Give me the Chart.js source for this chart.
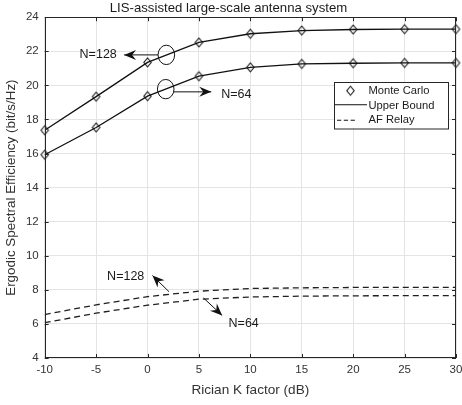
<!DOCTYPE html>
<html>
<head>
<meta charset="utf-8">
<script src="https://cdn.jsdelivr.net/npm/chart.js@4/dist/chart.umd.min.js"></script>
<style>
  html, body { margin: 0; padding: 0; background: #fff; }
  #wrap { width: 462px; height: 405px; }
</style>
</head>
<body>
<div id="wrap"><canvas id="seChart" width="462" height="405"></canvas></div>
<script>
// K factor (dB) on the x axis
const kFactor = [-10, -5, 0, 5, 10, 15, 20, 25, 30]

// LIS upper bound and Monte Carlo points
const upperBound128 = [17.37, 19.34, 21.35, 22.52, 23.03, 23.22, 23.28, 23.3, 23.3]
const upperBound64 = [15.93, 17.53, 19.37, 20.54, 21.06, 21.26, 21.3, 21.32, 21.32]
const monteCarlo128 = [17.37, 19.34, 21.35, 22.52, 23.03, 23.22, 23.28, 23.3, 23.3]
const monteCarlo64 = [15.93, 17.53, 19.37, 20.54, 21.06, 21.26, 21.3, 21.32, 21.32]

// AF relay curves
const afRelay128 = [6.55, 7.12, 7.6, 7.92, 8.08, 8.12, 8.14, 8.15, 8.15]
const afRelay64 = [6.07, 6.63, 7.1, 7.45, 7.58, 7.63, 7.65, 7.66, 7.66]

const xTicks = [-10, -5, 0, 5, 10, 15, 20, 25, 30]
const yTicks = [4, 6, 8, 10, 12, 14, 16, 18, 20, 22, 24]

const legendLabels = ['Monte Carlo', 'Upper Bound', 'AF Relay']

const FONT = 'Liberation Sans, Arial, Helvetica, sans-serif'
const TEXT = '#333333'
const LINE = '#111111'

const pts = (ys) => kFactor.map((k, i) => ({ x: k, y: ys[i] }))

// narrow matlab style diamond marker
const makeDiamond = () => {
  const c = document.createElement('canvas')
  c.width = 11
  c.height = 13
  const g = c.getContext('2d')
  g.strokeStyle = LINE
  g.lineWidth = 1.1
  g.beginPath()
  g.moveTo(5.5, 2)
  g.lineTo(9.2, 6.5)
  g.lineTo(5.5, 11)
  g.lineTo(1.8, 6.5)
  g.closePath()
  g.stroke()
  return c
}
const diamond = makeDiamond()

// annotation marks in data units (ellipses, arrows, labels)
const ellipses = [
  { x: 1.83, y: 21.79 },
  { x: 1.77, y: 19.78 },
]
const arrows = [
  { from: [1.02, 21.79], to: [-2.28, 21.79] },
  { from: [2.57, 19.62], to: [6.2, 19.62] },
  { from: [2.09, 7.89], to: [0.48, 8.84] },
  { from: [5.45, 7.52], to: [7.26, 6.5] },
]
const notes = [
  { text: 'N=128', x: -2.99, y: 21.79, align: 'right' },
  { text: 'N=64', x: 7.17, y: 19.46, align: 'left' },
  { text: 'N=128', x: -3.93, y: 8.79, align: 'left' },
  { text: 'N=64', x: 7.88, y: 6.05, align: 'left' },
]

const drawArrowHead = (ctx, x1, y1, x2, y2) => {
  const a = Math.atan2(y2 - y1, x2 - x1)
  const L = 12, W = 5, N = 8
  const ux = Math.cos(a), uy = Math.sin(a)
  ctx.beginPath()
  ctx.moveTo(x2, y2)
  ctx.lineTo(x2 - L * ux - W * uy, y2 - L * uy + W * ux)
  ctx.lineTo(x2 - N * ux, y2 - N * uy)
  ctx.lineTo(x2 - L * ux + W * uy, y2 - L * uy - W * ux)
  ctx.closePath()
  ctx.fill()
}

const decorations = {
  id: 'decorations',
  afterDraw(chart) {
    const { ctx, chartArea: ca, scales: { x, y } } = chart
    ctx.save()

    // box + inward ticks
    ctx.strokeStyle = '#262626'
    ctx.lineWidth = 1
    ctx.strokeRect(Math.round(ca.left) + 0.5, Math.round(ca.top) + 0.5,
      Math.round(ca.right - ca.left) - 1, Math.round(ca.bottom - ca.top) - 1)
    ctx.beginPath()
    xTicks.forEach(v => {
      const px = Math.round(x.getPixelForValue(v)) + 0.5
      ctx.moveTo(px, ca.bottom); ctx.lineTo(px, ca.bottom - 4)
      ctx.moveTo(px, ca.top); ctx.lineTo(px, ca.top + 4)
    })
    yTicks.forEach(v => {
      const py = Math.round(y.getPixelForValue(v)) + 0.5
      ctx.moveTo(ca.left, py); ctx.lineTo(ca.left + 4, py)
      ctx.moveTo(ca.right, py); ctx.lineTo(ca.right - 4, py)
    })
    ctx.stroke()

    // ellipses
    ctx.strokeStyle = LINE
    ellipses.forEach(e => {
      ctx.beginPath()
      ctx.ellipse(x.getPixelForValue(e.x), y.getPixelForValue(e.y), 8.3, 9.7, 0, 0, Math.PI * 2)
      ctx.stroke()
    })

    // arrows
    ctx.fillStyle = LINE
    arrows.forEach(a => {
      const x1 = x.getPixelForValue(a.from[0]), y1 = y.getPixelForValue(a.from[1])
      const x2 = x.getPixelForValue(a.to[0]), y2 = y.getPixelForValue(a.to[1])
      ctx.beginPath()
      ctx.moveTo(x1, y1)
      ctx.lineTo(x2, y2)
      ctx.stroke()
      drawArrowHead(ctx, x1, y1, x2, y2)
    })

    // labels
    ctx.font = '12.5px ' + FONT
    ctx.fillStyle = '#1a1a1a'
    ctx.textBaseline = 'middle'
    notes.forEach(n => {
      ctx.textAlign = n.align
      ctx.fillText(n.text, x.getPixelForValue(n.x), y.getPixelForValue(n.y))
    })

    // legend box
    const lx = ca.right - 122, ly = ca.top + 64.5, lw = 114, lh = 46.5
    ctx.fillStyle = '#fff'
    ctx.fillRect(lx, ly, lw, lh)
    ctx.strokeStyle = '#262626'
    ctx.strokeRect(Math.round(lx) + 0.5, Math.round(ly) + 0.5, lw, lh)
    ctx.drawImage(diamond, lx + 11, ly + 2.5)
    ctx.strokeStyle = LINE
    ctx.beginPath()
    ctx.moveTo(lx + 1, ly + 23); ctx.lineTo(lx + 33, ly + 23)
    ctx.stroke()
    ctx.setLineDash([4.3, 2.5])
    ctx.beginPath()
    ctx.moveTo(lx + 3, ly + 38.5); ctx.lineTo(lx + 22, ly + 38.5)
    ctx.stroke()
    ctx.setLineDash([])
    ctx.font = '11.2px ' + FONT
    ctx.fillStyle = '#1a1a1a'
    ctx.textAlign = 'left'
    legendLabels.forEach((t, i) => ctx.fillText(t, lx + 34.5, ly + 9 + i * 14.8))

    ctx.restore()
  }
}

const solid = (data) => ({
  data: pts(data), borderColor: LINE, borderWidth: 1.3,
  pointRadius: 0, showLine: true, fill: false,
})
const dashed = (data) => ({
  data: pts(data), borderColor: '#1f1f1f', borderWidth: 1.3, borderDash: [6, 4],
  pointRadius: 0, showLine: true, fill: false,
})
const markers = (data) => ({
  data: pts(data), showLine: false, pointStyle: diamond, pointRadius: 5,
  borderColor: LINE, backgroundColor: 'transparent', clip: false,
})

new Chart(document.getElementById('seChart'), {
  type: 'scatter',
  data: {
    datasets: [
      solid(upperBound128),
      solid(upperBound64),
      dashed(afRelay128),
      dashed(afRelay64),
      markers(monteCarlo128),
      markers(monteCarlo64),
    ],
  },
  options: {
    responsive: false,
    animation: false,
    layout: { padding: { left: 0, right: 5, top: 0, bottom: 0 } },
    plugins: {
      legend: { display: false },
      tooltip: { enabled: false },
      title: {
        display: true,
        text: 'LIS-assisted large-scale antenna system',
        color: '#1a1a1a',
        font: { family: FONT, size: 13.2, weight: 'normal' },
        padding: { top: 0.6, bottom: 0.8 },
      },
    },
    scales: {
      x: {
        type: 'linear',
        min: -10, max: 30,
        afterBuildTicks: (axis) => { axis.ticks = xTicks.map(v => ({ value: v })) },
        afterFit: (axis) => { axis.height = 47; axis.paddingLeft = 0; axis.paddingRight = 0 },
        grid: { color: '#e4e4e4', drawTicks: false },
        border: { display: false },
        ticks: { color: TEXT, padding: 4.8, maxRotation: 0, autoSkip: false, font: { family: FONT, size: 11.5 } },
        title: {
          display: true, text: 'Rician K factor (dB)', color: TEXT,
          font: { family: FONT, size: 13.6 }, padding: { top: 0, bottom: 7 },
        },
      },
      y: {
        type: 'linear',
        min: 4, max: 24,
        afterBuildTicks: (axis) => { axis.ticks = yTicks.map(v => ({ value: v })) },
        afterFit: (axis) => { axis.width = 44.7; axis.paddingTop = 0; axis.paddingBottom = 0 },
        grid: { color: '#e4e4e4', drawTicks: false },
        border: { display: false },
        ticks: { color: TEXT, padding: 6, autoSkip: false, font: { family: FONT, size: 11.5 } },
        title: {
          display: true, text: 'Ergodic Spectral Efficiency (bit/s/Hz)', color: TEXT,
          font: { family: FONT, size: 13.4 }, padding: { top: 3, bottom: 0 },
        },
      },
    },
  },
  plugins: [decorations],
})
</script>
</body>
</html>
